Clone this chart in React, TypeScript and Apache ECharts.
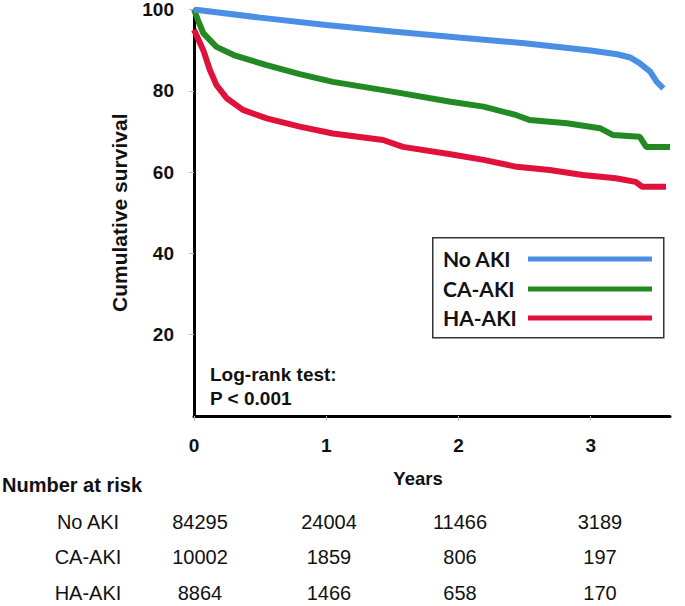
import { useEffect, useRef } from 'react';
import * as echarts from 'echarts';

const seriesNames = ['No AKI', 'CA-AKI', 'HA-AKI'];
const seriesColors = ['#4a8fe4', '#238a23', '#e0123c'];

const noAkiTime = [0, 0.5, 1, 1.5, 2, 2.5, 3, 3.2, 3.3, 3.37, 3.45, 3.5, 3.55];
const noAkiSurv = [100, 98, 96.2, 94.6, 93.1, 91.7, 89.9, 89.0, 88.2, 86.8, 84.7, 82.2, 80.6];

const caAkiTime = [0, 0.03, 0.07, 0.17, 0.3, 0.55, 0.8, 1.05, 1.5, 1.94, 2.19, 2.44, 2.54, 2.82, 3.07, 3.17, 3.37, 3.42, 3.6];
const caAkiSurv = [100, 97.4, 94.2, 90.8, 88.8, 86.3, 84.1, 82.2, 79.8, 77.3, 76.1, 74.0, 72.8, 72.0, 70.8, 69.1, 68.7, 66.2, 66.2];

const haAkiTime = [0, 0.07, 0.12, 0.17, 0.25, 0.37, 0.55, 0.8, 1.05, 1.43, 1.58, 1.94, 2.19, 2.44, 2.69, 2.94, 3.19, 3.34, 3.39, 3.57];
const haAkiSurv = [95, 90.0, 85.1, 81.4, 78.1, 75.3, 73.2, 71.2, 69.5, 67.9, 66.2, 64.4, 63.0, 61.3, 60.5, 59.3, 58.5, 57.6, 56.4, 56.4];

const xTicks = [0, 1, 2, 3];
const yTicks = [20, 40, 60, 80, 100];

const yAxisTitle = 'Cumulative survival';
const xAxisTitle = 'Years';
const testLines = ['Log-rank test:', 'P < 0.001'];

const riskTitle = 'Number at risk';
const riskNoAki = [84295, 24004, 11466, 3189];
const riskCaAki = [10002, 1859, 806, 197];
const riskHaAki = [8864, 1466, 658, 170];

const zip = (t: number[], v: number[]) => t.map((x, i) => [x, v[i]]);

export default function App() {
  const ref = useRef<HTMLDivElement>(null);
  useEffect(() => {
    document.body.style.margin = '0';
    const chart = echarts.init(ref.current!, null, { renderer: 'svg' });
    const bold = 'bold';
    const arial = '"Liberation Sans", Arial, sans-serif';
    const lato = 'Lato, "Open Sans", sans-serif';

    const seriesData = [zip(noAkiTime, noAkiSurv), zip(caAkiTime, caAkiSurv), zip(haAkiTime, haAkiSurv)];
    const riskRows = [riskNoAki, riskCaAki, riskHaAki];
    const colX = [200, 329, 460, 600];
    const rowY = [522, 557, 593];

    const graphic: any[] = [];
    graphic.push({
      type: 'rect', left: 432, top: 237, z: 10,
      shape: { width: 231, height: 100 },
      style: { fill: '#fff', stroke: '#333', lineWidth: 1.5 },
    });
    const legY = [258, 288, 317];
    seriesNames.forEach((n, i) => {
      graphic.push({
        type: 'text', x: 443, y: legY[i], z: 11,
        style: { text: n, font: `${bold} 21px ${lato}`, fill: '#111', textVerticalAlign: 'middle', textAlign: 'left' },
      });
      graphic.push({
        type: 'line', z: 11,
        shape: { x1: 528, y1: legY[i] + 1, x2: 652, y2: legY[i] + 1 },
        style: { stroke: seriesColors[i], lineWidth: 5 },
      });
    });
    const testY = [374, 398];
    testLines.forEach((t, i) => {
      graphic.push({
        type: 'text', x: 210, y: testY[i],
        style: { text: t, font: `${bold} 19px ${arial}`, fill: '#111', textVerticalAlign: 'middle' },
      });
    });
    graphic.push({
      type: 'text', x: 418, y: 478,
      style: { text: xAxisTitle, font: `${bold} 18.5px ${arial}`, fill: '#111', textAlign: 'center', textVerticalAlign: 'middle' },
    });
    graphic.push({
      type: 'text', x: 2, y: 485,
      style: { text: riskTitle, font: `${bold} 20px ${arial}`, fill: '#111', textVerticalAlign: 'middle' },
    });
    seriesNames.forEach((n, r) => {
      graphic.push({
        type: 'text', x: 88, y: rowY[r],
        style: { text: n, font: `20px ${arial}`, fill: '#111', textAlign: 'center', textVerticalAlign: 'middle' },
      });
      riskRows[r].forEach((v, c) => {
        graphic.push({
          type: 'text', x: colX[c], y: rowY[r],
          style: { text: String(v), font: `20px ${arial}`, fill: '#111', textAlign: 'center', textVerticalAlign: 'middle' },
        });
      });
    });

    chart.setOption({
      animation: false,
      backgroundColor: '#fff',
      grid: { left: 194, right: 15, top: 9.5, bottom: 190, containLabel: false },
      xAxis: {
        type: 'value', min: 0, max: 3.6, interval: 1,
        splitLine: { show: false },
        axisLine: { show: true, lineStyle: { color: '#000', width: 3 } },
        axisTick: { show: true, length: 5, lineStyle: { color: '#bbb', width: 1 }, customValues: xTicks },
        axisLabel: { customValues: xTicks, margin: 20, fontSize: 19, fontWeight: 'bold', fontFamily: arial, color: '#111' },
      },
      yAxis: {
        type: 'value', min: 0, max: 100, interval: 20,
        splitLine: { show: false },
        axisLine: { show: true, lineStyle: { color: '#000', width: 3 } },
        axisTick: { show: true, length: 5, lineStyle: { color: '#bbb', width: 1 }, customValues: yTicks },
        axisLabel: { customValues: yTicks, margin: 20, fontSize: 19, fontWeight: 'bold', fontFamily: arial, color: '#111' },
        name: yAxisTitle, nameLocation: 'middle', nameRotate: 90, nameGap: 64,
        nameTextStyle: { fontSize: 21, fontWeight: 'bold', fontFamily: arial, color: '#111' },
      },
      series: seriesNames.map((n, i) => ({
        name: n, type: 'line', data: seriesData[i], showSymbol: false, symbol: 'none',
        lineStyle: { color: seriesColors[i], width: 6 }, color: seriesColors[i],
        z: 3 - i,
      })),
      graphic,
    });
    return () => chart.dispose();
  }, []);
  return <div ref={ref} style={{ width: 685, height: 606 }} />;
}
